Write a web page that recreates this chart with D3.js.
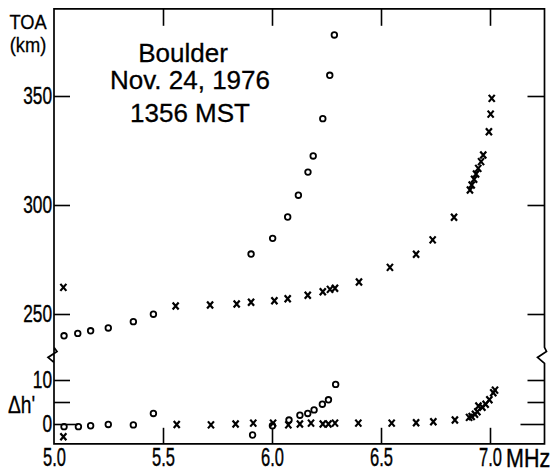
<!DOCTYPE html>
<html>
  <head>
    <meta charset="utf-8">
    <title>Boulder TOA</title>
    <script src="https://d3js.org/d3.v7.min.js"></script>
    <style>
      body {
        margin: 0;
        background: #fff;
      }
      text {
        font-family: "Liberation Sans", Arial, sans-serif;
        fill: #000;
      }
    </style>
  </head>
  <body>
    <script type="text/javascript">
      // upper panel: true height of reflection (km)
      var upperOFreq   = [5.046, 5.109, 5.168, 5.249, 5.364, 5.456, 5.904, 6.003, 6.072, 6.121, 6.165, 6.189, 6.233, 6.265, 6.286];
      var upperOHeight = [240.0, 241.1, 242.3, 243.6, 246.5, 249.9, 277.5, 284.7, 294.5, 304.5, 315.1, 322.5, 339.6, 359.5, 378.0];
      var upperXFreq   = [5.043, 5.558, 5.716, 5.838, 5.904, 6.011, 6.072, 6.164, 6.233, 6.266, 6.289, 6.399, 6.541, 6.661, 6.737, 6.835,
                          6.908, 6.916, 6.927, 6.936, 6.946, 6.959, 6.969, 6.995, 7.003, 7.008];
      var upperXHeight = [262.2, 253.7, 254.1, 254.6, 255.4, 256.1, 257.0, 258.6, 260.2, 261.3, 261.8, 264.7, 271.4, 277.4, 284.0, 294.4,
                          306.9, 309.2, 311.8, 314.2, 316.8, 319.9, 322.9, 333.6, 341.7, 348.9];

      // lower panel: delta h'
      var lowerOFreq  = [5.046, 5.112, 5.168, 5.249, 5.364, 5.456, 5.911, 6.002, 6.078, 6.128, 6.164, 6.193, 6.231, 6.259, 6.292];
      var lowerODelta = [-0.6, -0.6, -0.4, -0.1, -0.2, 2.4, -2.5, -0.4, 0.9, 2.0, 2.4, 3.2, 4.5, 5.5, 9.0];
      var lowerXFreq  = [5.043, 5.563, 5.720, 5.833, 5.914, 6.005, 6.075, 6.128, 6.179, 6.233, 6.259, 6.289, 6.396, 6.549, 6.661, 6.740, 6.839,
                         6.904, 6.916, 6.931, 6.942, 6.947, 6.965, 6.980, 6.997, 7.015, 7.023];
      var lowerXDelta = [-2.9, -0.1, -0.2, 0.0, 0.2, 0.2, -0.2, 0.0, 0.2, 0.0, 0.0, 0.2, 0.2, 0.2, 0.3, 0.5, 0.9,
                         1.5, 1.7, 2.2, 2.8, 4.1, 3.8, 4.5, 5.5, 7.1, 7.7];

      var freqTicks = [5.0, 5.5, 6.0, 6.5, 7.0];
      var upperTicks = [250, 300, 350];
      var lowerTicks = [0, 5, 10];
      var titleLines = ["Boulder", "Nov. 24, 1976", "1356 MST"];

      var width = 550, height = 472;

      var svg = d3.select("body").append("svg")
                  .attr("width", width)
                  .attr("height", height);

      var x = d3.scaleLinear().domain([5.0, 7.25]).range([54, 544.5]);
      var yTop = d3.scaleLinear().domain([250, 350]).range([314, 96]);
      var yBot = d3.scaleLinear().domain([0, 10]).range([424, 380]);

      // frame edges (note: "top" is reserved on window, so use other names)
      var edgeL = x(5.0), edgeR = x(7.25),
          edgeT = yTop(390), edgeBrk = yTop(231), edgeB = yBot(-4.5);

      // frame with break marks
      var frame = d3.path();
      frame.moveTo(edgeL, edgeB);
      frame.lineTo(edgeL, edgeBrk - 8);
      frame.lineTo(edgeL + 3, edgeBrk - 4);
      frame.lineTo(edgeL - 6, edgeBrk + 2);
      frame.lineTo(edgeL, edgeBrk + 7);
      frame.lineTo(edgeL, edgeT);
      frame.lineTo(edgeR, edgeT);
      frame.lineTo(edgeR, edgeBrk - 8);
      frame.lineTo(edgeR + 2, edgeBrk - 4);
      frame.lineTo(edgeR - 7, edgeBrk + 2);
      frame.lineTo(edgeR, edgeBrk + 8);
      frame.lineTo(edgeR, edgeB);
      frame.closePath();
      svg.append("path")
         .attr("d", frame.toString())
         .attr("fill", "none")
         .attr("stroke", "#000")
         .attr("stroke-width", 1.7);

      // narrow the labels like the original lettering
      function narrow(sel, sx) {
        sel.selectAll("text").each(function() {
          var t = d3.select(this);
          var x0 = +t.attr("x") || 0;
          t.attr("x", x0 / sx)
           .attr("transform", "scale(" + sx + ",1)");
        });
      }

      function styleAxis(g) {
        g.select(".domain").remove();
        g.selectAll(".tick line").attr("stroke", "#000").attr("stroke-width", 1.6);
        g.selectAll("text").attr("font-size", 24).attr("fill", "#000")
         .attr("font-family", "'Liberation Sans', Arial, sans-serif")
         .attr("stroke", "#000").attr("stroke-width", 0.4);
      }

      // left axes
      var gl1 = svg.append("g").attr("transform", "translate(" + edgeL + ",0)")
                   .call(d3.axisLeft(yTop).tickValues(upperTicks).tickSize(-16).tickPadding(2));
      styleAxis(gl1);
      narrow(gl1, 0.72);

      var gl2 = svg.append("g").attr("transform", "translate(" + edgeL + ",0)")
                   .call(d3.axisLeft(yBot).tickValues(lowerTicks).tickSize(-16).tickPadding(2)
                         .tickFormat(function(d) { return d === 5 ? "" : d; }));
      styleAxis(gl2);
      gl2.selectAll(".tick line").attr("x2", function(d) { return d === 0 ? 24 : 16; });
      narrow(gl2, 0.72);

      // right axes
      var gr1 = svg.append("g").attr("transform", "translate(" + edgeR + ",0)")
                   .call(d3.axisRight(yTop).tickValues(upperTicks).tickSize(-17).tickFormat(""));
      styleAxis(gr1);
      var gr2 = svg.append("g").attr("transform", "translate(" + edgeR + ",0)")
                   .call(d3.axisRight(yBot).tickValues(lowerTicks).tickSize(-17).tickFormat(""));
      styleAxis(gr2);
      gr2.selectAll(".tick line").attr("x2", function(d) { return d === 0 ? -24 : -17; });

      // top axis
      var gt = svg.append("g").attr("transform", "translate(0," + edgeT + ")")
                  .call(d3.axisTop(x).tickValues(freqTicks.slice(1)).tickSize(-17).tickFormat(""));
      styleAxis(gt);

      // bottom axis
      var gb = svg.append("g").attr("transform", "translate(0," + edgeB + ")")
                  .call(d3.axisBottom(x).tickValues(freqTicks).tickSize(-16).tickPadding(4)
                        .tickFormat(d3.format(".1f")));
      styleAxis(gb);
      gb.selectAll("text").attr("font-size", 25).attr("dy", "0.74em");
      gb.selectAll(".tick").filter(function(d) { return d === 5.0; }).select("line").remove();
      narrow(gb, 0.66);

      svg.append("text")
         .attr("x", 506 / 0.86).attr("y", 467)
         .attr("font-size", 25)
         .attr("stroke", "#000").attr("stroke-width", 0.4)
         .attr("transform", "scale(0.86,1)")
         .text("MHz");

      // axis titles
      svg.append("text")
         .attr("x", 28 / 0.87).attr("y", 29)
         .attr("font-size", 21).attr("text-anchor", "middle")
         .attr("stroke", "#000").attr("stroke-width", 0.3)
         .attr("transform", "scale(0.87,1)")
         .text("TOA");
      svg.append("text")
         .attr("x", 28 / 0.87).attr("y", 52)
         .attr("font-size", 21).attr("text-anchor", "middle")
         .attr("stroke", "#000").attr("stroke-width", 0.3)
         .attr("transform", "scale(0.87,1)")
         .text("(km)");
      svg.append("text")
         .attr("x", 8 / 0.8).attr("y", 413)
         .attr("font-size", 24)
         .attr("stroke", "#000").attr("stroke-width", 0.3)
         .attr("transform", "scale(0.8,1)")
         .text("\u0394h'");

      // title block
      var titleX = [183, 190, 190], titleY = [62, 89, 122];
      svg.selectAll(".title").data(titleLines).enter()
         .append("text")
         .attr("class", "title")
         .attr("x", function(d, i) { return titleX[i]; })
         .attr("y", function(d, i) { return titleY[i]; })
         .attr("text-anchor", "middle")
         .attr("font-size", 26)
         .attr("stroke", "#000").attr("stroke-width", 0.3)
         .text(function(d) { return d; });

      // markers
      var cross = "M-3,-3.5L3,3.5M3,-3.5L-3,3.5";

      function drawO(freqs, vals, yScale) {
        svg.append("g").selectAll("circle")
           .data(freqs).enter()
           .append("circle")
           .attr("cx", function(d) { return x(d); })
           .attr("cy", function(d, i) { return yScale(vals[i]); })
           .attr("r", 2.8)
           .attr("fill", "none")
           .attr("stroke", "#000")
           .attr("stroke-width", 1.8);
      }

      function drawX(freqs, vals, yScale) {
        svg.append("g").selectAll("path")
           .data(freqs).enter()
           .append("path")
           .attr("d", cross)
           .attr("transform", function(d, i) { return "translate(" + x(d) + "," + yScale(vals[i]) + ")"; })
           .attr("fill", "none")
           .attr("stroke", "#000")
           .attr("stroke-width", 2.2);
      }

      drawO(upperOFreq, upperOHeight, yTop);
      drawX(upperXFreq, upperXHeight, yTop);
      drawO(lowerOFreq, lowerODelta, yBot);
      drawX(lowerXFreq, lowerXDelta, yBot);
    </script>
  </body>
</html>
